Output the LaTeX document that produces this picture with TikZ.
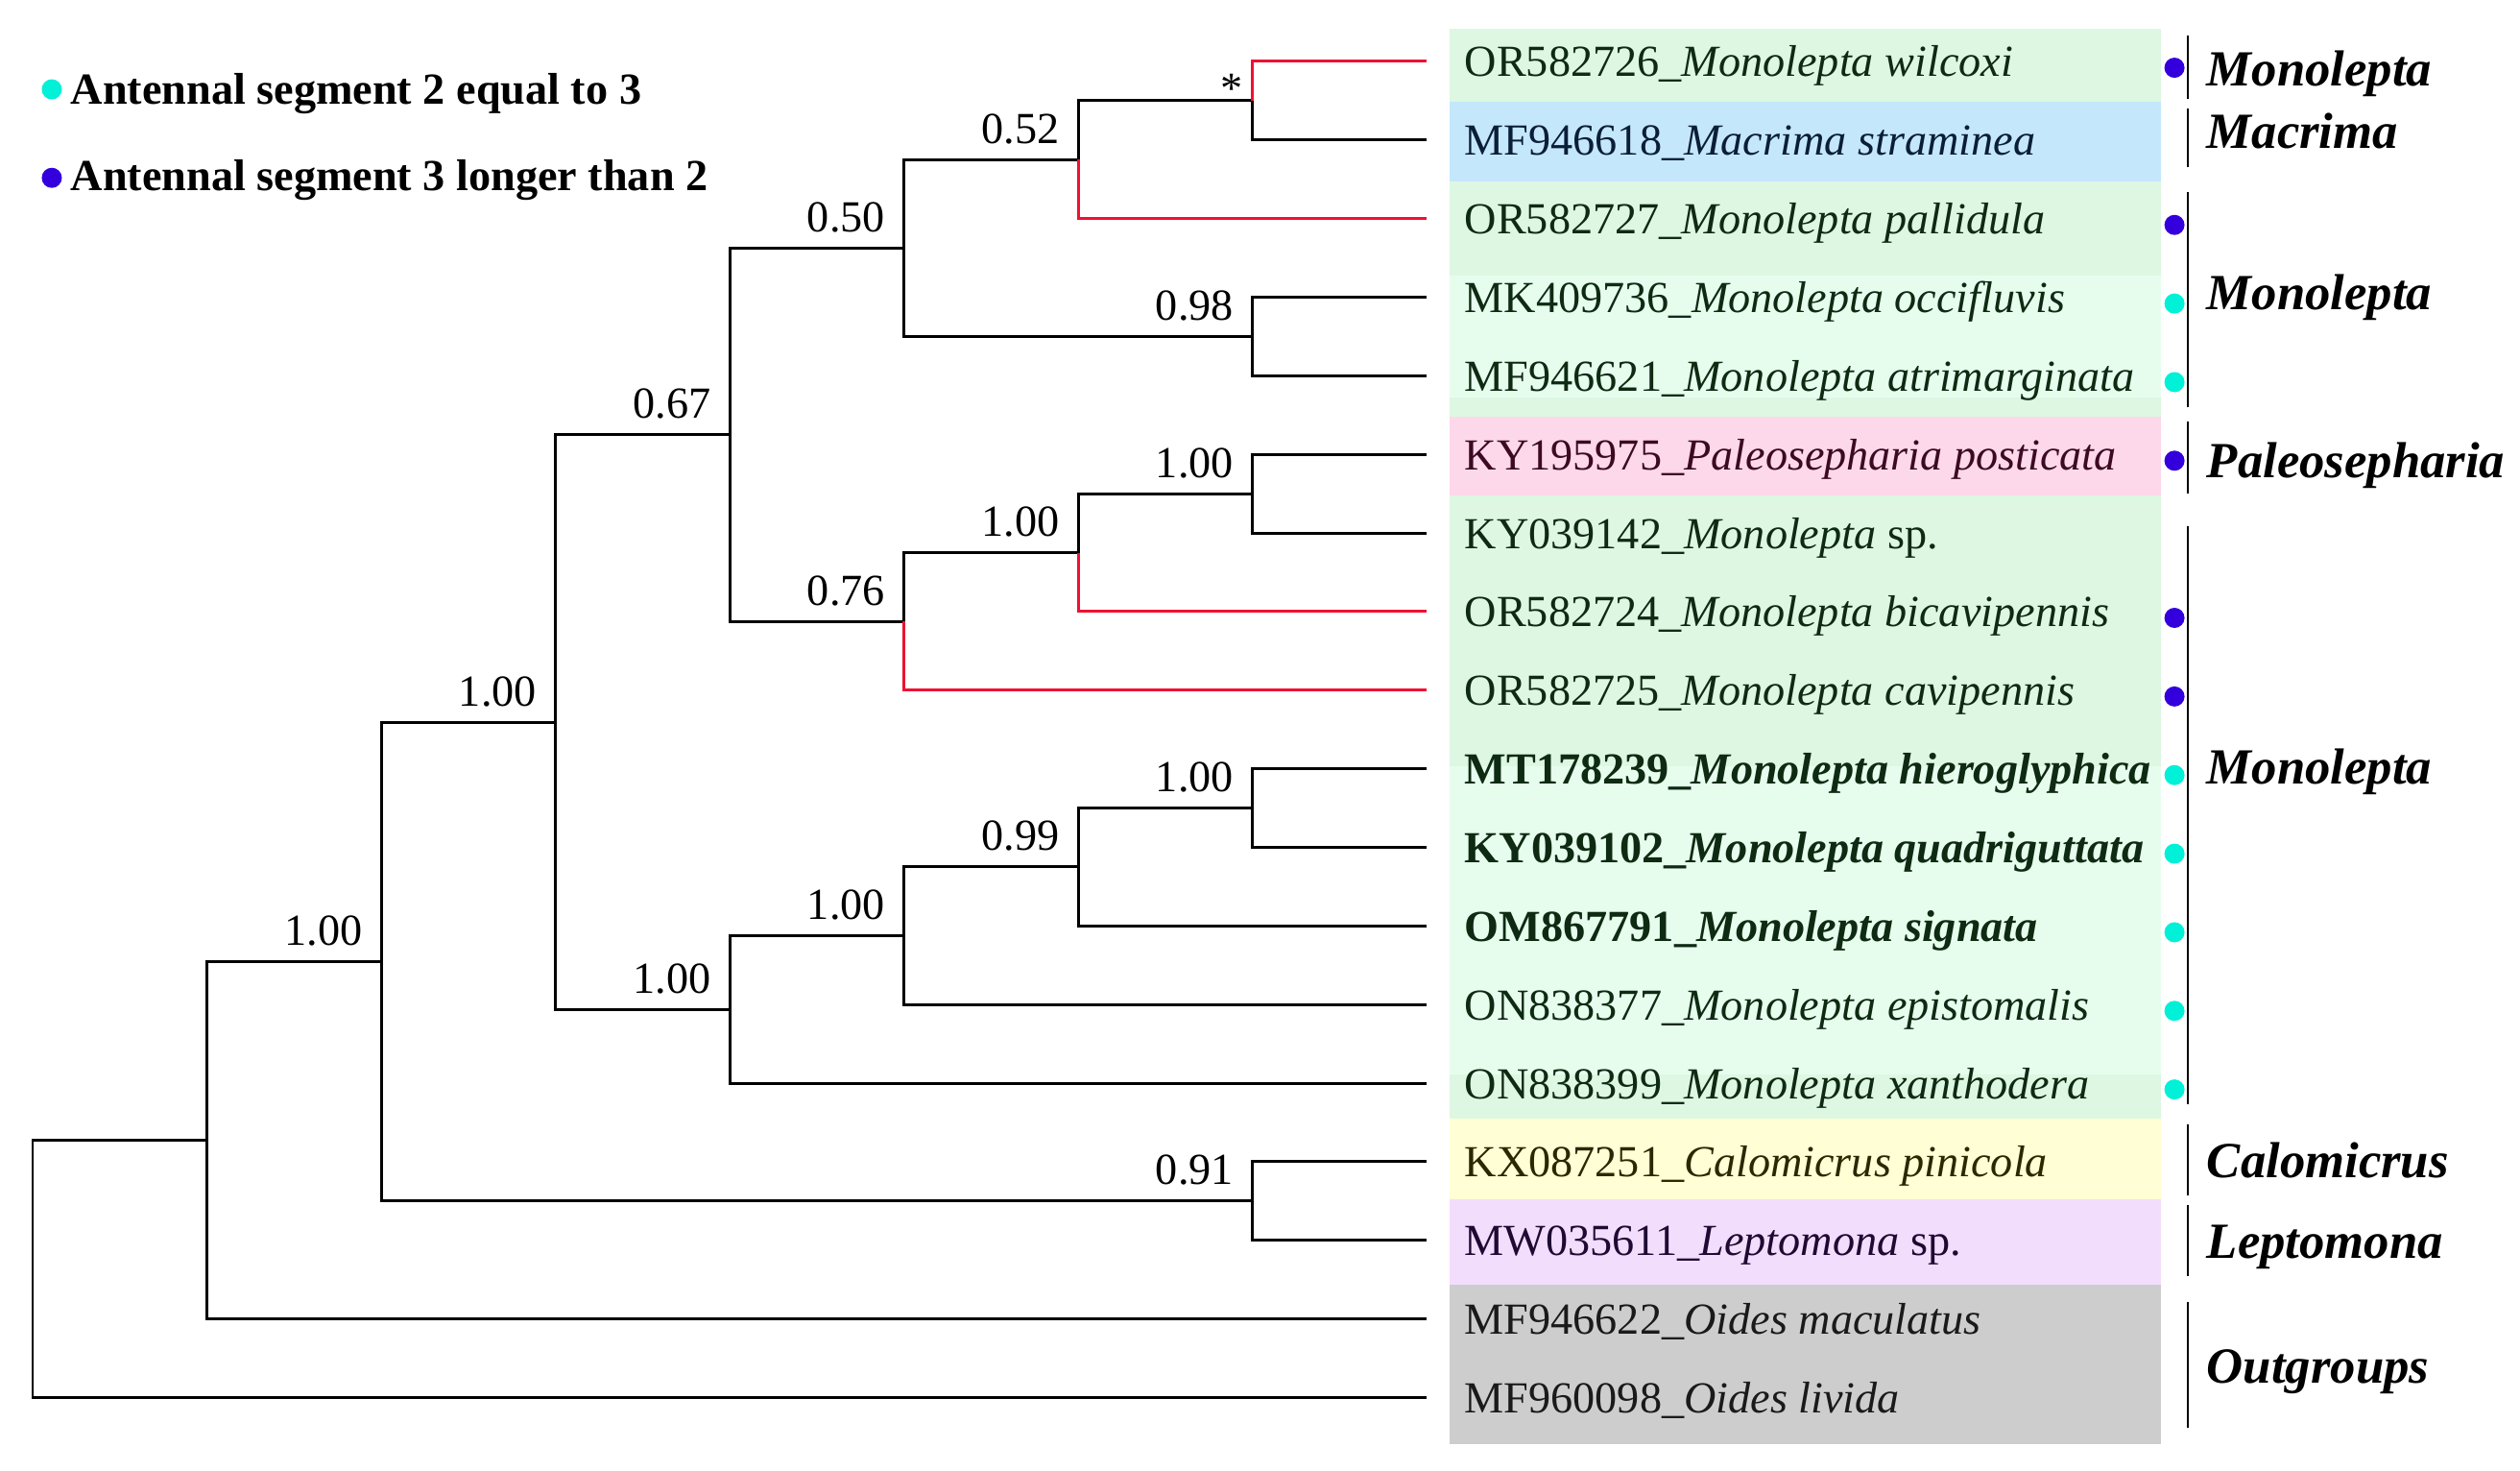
\documentclass[tikz,border=0pt]{standalone}
\usepackage{fontspec}
\setmainfont{Liberation Serif}
\usepackage{tikz}

\definecolor{mintbg}{HTML}{DDF7E2}
\definecolor{palebg}{HTML}{E6FDEE}
\definecolor{skybg}{HTML}{C5E7FB}
\definecolor{pinkbg}{HTML}{FDD8EB}
\definecolor{yellowbg}{HTML}{FFFED5}
\definecolor{lilacbg}{HTML}{F3DDFD}
\definecolor{greybg}{HTML}{CDCDCD}
\definecolor{treered}{HTML}{EE1133}
\definecolor{segeq}{HTML}{00F0D8}
\definecolor{seglong}{HTML}{3300DD}
\definecolor{monotxt}{HTML}{0E2A12}
\definecolor{macrtxt}{HTML}{0A1E3A}
\definecolor{paletxt}{HTML}{3C0A22}
\definecolor{calotxt}{HTML}{2A2800}
\definecolor{leptxt}{HTML}{1E0A32}
\definecolor{outtxt}{HTML}{1A1A1A}

\newcommand{\taxsize}{\fontsize{13.15}{15}\selectfont}
\newcommand{\cladesize}{\fontsize{15}{18}\selectfont}

\tikzset{
	branch/.style={line width=0.85pt, black},
	redbranch/.style={line width=0.85pt, treered},
	taxon/.style={anchor=base west, inner sep=0pt, font=\taxsize, xshift=0.39cm, yshift=-0.16cm},
	support/.style={anchor=base east, inner sep=0pt, font=\taxsize, xshift=-0.19cm, yshift=0.17cm},
	segdot/.style={circle, inner sep=0pt, minimum size=0.21cm},
	clade/.style={line width=0.8pt},
	cladename/.style={anchor=base west, inner sep=0pt, font=\cladesize\bfseries\itshape},
	keytext/.style={anchor=base west, inner sep=0pt, font=\taxsize\bfseries}
}

\begin{document}
\begin{tikzpicture}[x=1.815cm, y=-0.8185cm]
	\useasboundingbox (-0.1873,-0.782) rectangle (14.275,17.923);

	% coloured strips behind the taxa
	\fill[mintbg] (8.132,-0.42) rectangle (12.215,0.51);
	\fill[skybg] (8.132,0.51) rectangle (12.215,1.53);
	\fill[mintbg] (8.132,1.53) rectangle (12.215,2.72);
	\fill[palebg] (8.132,2.72) rectangle (12.215,4.27);
	\fill[mintbg] (8.132,4.27) rectangle (12.215,4.52);
	\fill[pinkbg] (8.132,4.52) rectangle (12.215,5.52);
	\fill[mintbg] (8.132,5.52) rectangle (12.215,8.97);
	\fill[palebg] (8.132,8.97) rectangle (12.215,12.89);
	\fill[mintbg] (8.132,12.89) rectangle (12.215,13.45);
	\fill[yellowbg] (8.132,13.45) rectangle (12.215,14.48);
	\fill[lilacbg] (8.132,14.48) rectangle (12.215,15.56);
	\fill[greybg] (8.132,15.56) rectangle (12.215,17.59);

	% tips
	\coordinate (wil) at (8,0);
	\coordinate (str) at (8,1);
	\coordinate (pal) at (8,2);
	\coordinate (occ) at (8,3);
	\coordinate (atr) at (8,4);
	\coordinate (pos) at (8,5);
	\coordinate (msp) at (8,6);
	\coordinate (bic) at (8,7);
	\coordinate (cav) at (8,8);
	\coordinate (hie) at (8,9);
	\coordinate (qua) at (8,10);
	\coordinate (sig) at (8,11);
	\coordinate (epi) at (8,12);
	\coordinate (xan) at (8,13);
	\coordinate (pin) at (8,14);
	\coordinate (lep) at (8,15);
	\coordinate (mac) at (8,16);
	\coordinate (liv) at (8,17);

	% internal nodes
	\coordinate (K) at (7,0.5);
	\coordinate (I) at (6,1.25);
	\coordinate (J) at (7,3.5);
	\coordinate (G) at (5,2.375);
	\coordinate (M) at (7,5.5);
	\coordinate (L) at (6,6.25);
	\coordinate (H) at (5,7.125);
	\coordinate (E) at (4,4.75);
	\coordinate (P) at (7,9.5);
	\coordinate (O) at (6,10.25);
	\coordinate (N) at (5,11.125);
	\coordinate (F) at (4,12.0625);
	\coordinate (C) at (3,8.40625);
	\coordinate (D) at (7,14.5);
	\coordinate (B) at (2,11.453125);
	\coordinate (A) at (1,13.7265625);
	\coordinate (R) at (0,15.36328125);

	% branches
	\draw[branch] (R) |- (A);
	\draw[branch] (R) |- (liv);
	\draw[branch] (A) |- (B);
	\draw[branch] (A) |- (mac);
	\draw[branch] (B) |- (C);
	\draw[branch] (B) |- (D);
	\draw[branch] (D) |- (pin);
	\draw[branch] (D) |- (lep);
	\draw[branch] (C) |- (E);
	\draw[branch] (C) |- (F);
	\draw[branch] (E) |- (G);
	\draw[branch] (E) |- (H);
	\draw[branch] (G) |- (I);
	\draw[branch] (G) |- (J);
	\draw[branch] (I) |- (K);
	\draw[redbranch] (I) |- (pal);
	\draw[redbranch] (K) |- (wil);
	\draw[branch] (K) |- (str);
	\draw[branch] (J) |- (occ);
	\draw[branch] (J) |- (atr);
	\draw[branch] (H) |- (L);
	\draw[redbranch] (H) |- (cav);
	\draw[branch] (L) |- (M);
	\draw[redbranch] (L) |- (bic);
	\draw[branch] (M) |- (pos);
	\draw[branch] (M) |- (msp);
	\draw[branch] (F) |- (N);
	\draw[branch] (F) |- (xan);
	\draw[branch] (N) |- (O);
	\draw[branch] (N) |- (epi);
	\draw[branch] (O) |- (P);
	\draw[branch] (O) |- (sig);
	\draw[branch] (P) |- (hie);
	\draw[branch] (P) |- (qua);

	% support values
	\node[support, xshift=0.1cm, yshift=-0.2cm] (sK) at (K) {*};
	\node[support] (sI) at (I) {0.52};
	\node[support] (sG) at (G) {0.50};
	\node[support] (sJ) at (J) {0.98};
	\node[support] (sE) at (E) {0.67};
	\node[support] (sH) at (H) {0.76};
	\node[support] (sL) at (L) {1.00};
	\node[support] (sM) at (M) {1.00};
	\node[support] (sC) at (C) {1.00};
	\node[support] (sP) at (P) {1.00};
	\node[support] (sO) at (O) {0.99};
	\node[support] (sN) at (N) {1.00};
	\node[support] (sF) at (F) {1.00};
	\node[support] (sB) at (B) {1.00};
	\node[support] (sD) at (D) {0.91};

	% taxon names
	\node[taxon, monotxt] (wil-t) at (wil) {OR582726\_\textit{Monolepta wilcoxi}};
	\node[taxon, macrtxt] (str-t) at (str) {MF946618\_\textit{Macrima straminea}};
	\node[taxon, monotxt] (pal-t) at (pal) {OR582727\_\textit{Monolepta pallidula}};
	\node[taxon, monotxt] (occ-t) at (occ) {MK409736\_\textit{Monolepta occifluvis}};
	\node[taxon, monotxt] (atr-t) at (atr) {MF946621\_\textit{Monolepta atrimarginata}};
	\node[taxon, paletxt] (pos-t) at (pos) {KY195975\_\textit{Paleosepharia posticata}};
	\node[taxon, monotxt] (msp-t) at (msp) {KY039142\_\textit{Monolepta} sp.};
	\node[taxon, monotxt] (bic-t) at (bic) {OR582724\_\textit{Monolepta bicavipennis}};
	\node[taxon, monotxt] (cav-t) at (cav) {OR582725\_\textit{Monolepta cavipennis}};
	\node[taxon, monotxt] (hie-t) at (hie) {\bfseries MT178239\_\textit{Monolepta hieroglyphica}};
	\node[taxon, monotxt] (qua-t) at (qua) {\bfseries KY039102\_\textit{Monolepta quadriguttata}};
	\node[taxon, monotxt] (sig-t) at (sig) {\bfseries OM867791\_\textit{Monolepta signata}};
	\node[taxon, monotxt] (epi-t) at (epi) {ON838377\_\textit{Monolepta epistomalis}};
	\node[taxon, monotxt] (xan-t) at (xan) {ON838399\_\textit{Monolepta xanthodera}};
	\node[taxon, calotxt] (pin-t) at (pin) {KX087251\_\textit{Calomicrus pinicola}};
	\node[taxon, leptxt] (lep-t) at (lep) {MW035611\_\textit{Leptomona} sp.};
	\node[taxon, outtxt] (mac-t) at (mac) {MF946622\_\textit{Oides maculatus}};
	\node[taxon, outtxt] (liv-t) at (liv) {MF960098\_\textit{Oides livida}};

	% antennal segment dots
	\node[segdot, fill=seglong] (wil-d) at (12.292,0.08) {};
	\node[segdot, fill=seglong] (pal-d) at (12.292,2.08) {};
	\node[segdot, fill=segeq] (occ-d) at (12.292,3.08) {};
	\node[segdot, fill=segeq] (atr-d) at (12.292,4.08) {};
	\node[segdot, fill=seglong] (pos-d) at (12.292,5.08) {};
	\node[segdot, fill=seglong] (bic-d) at (12.292,7.08) {};
	\node[segdot, fill=seglong] (cav-d) at (12.292,8.08) {};
	\node[segdot, fill=segeq] (hie-d) at (12.292,9.08) {};
	\node[segdot, fill=segeq] (qua-d) at (12.292,10.08) {};
	\node[segdot, fill=segeq] (sig-d) at (12.292,11.08) {};
	\node[segdot, fill=segeq] (epi-d) at (12.292,12.08) {};
	\node[segdot, fill=segeq] (xan-d) at (12.292,13.08) {};

	% genus brackets
	\draw[clade] (12.369,-0.334) -- (12.369,0.474);
	\draw[clade] (12.369,0.596) -- (12.369,1.34);
	\draw[clade] (12.369,1.665) -- (12.369,4.40);
	\draw[clade] (12.369,4.58) -- (12.369,5.50);
	\draw[clade] (12.369,5.91) -- (12.369,13.27);
	\draw[clade] (12.369,13.52) -- (12.369,14.43);
	\draw[clade] (12.369,14.55) -- (12.369,15.46);
	\draw[clade] (12.369,15.78) -- (12.369,17.38);
	\node[cladename] (g-mono1) at (12.474,0.31) {Monolepta};
	\node[cladename] (g-macr) at (12.474,1.11) {Macrima};
	\node[cladename] (g-mono2) at (12.474,3.16) {Monolepta};
	\node[cladename] (g-pale) at (12.474,5.30) {Paleosepharia};
	\node[cladename] (g-mono3) at (12.474,9.19) {Monolepta};
	\node[cladename] (g-calo) at (12.474,14.2) {Calomicrus};
	\node[cladename] (g-lept) at (12.474,15.23) {Leptomona};
	\node[cladename] (g-out) at (12.474,16.82) {Outgroups};

	% legend
	\node[segdot, fill=segeq] (key-eq) at (0.110,0.355) {};
	\node[keytext] (key-eq-t) at (0.215,0.539) {Antennal segment 2 equal to 3};
	\node[segdot, fill=seglong] (key-long) at (0.110,1.481) {};
	\node[keytext] (key-long-t) at (0.215,1.640) {Antennal segment 3 longer than 2};
\end{tikzpicture}
\end{document}
